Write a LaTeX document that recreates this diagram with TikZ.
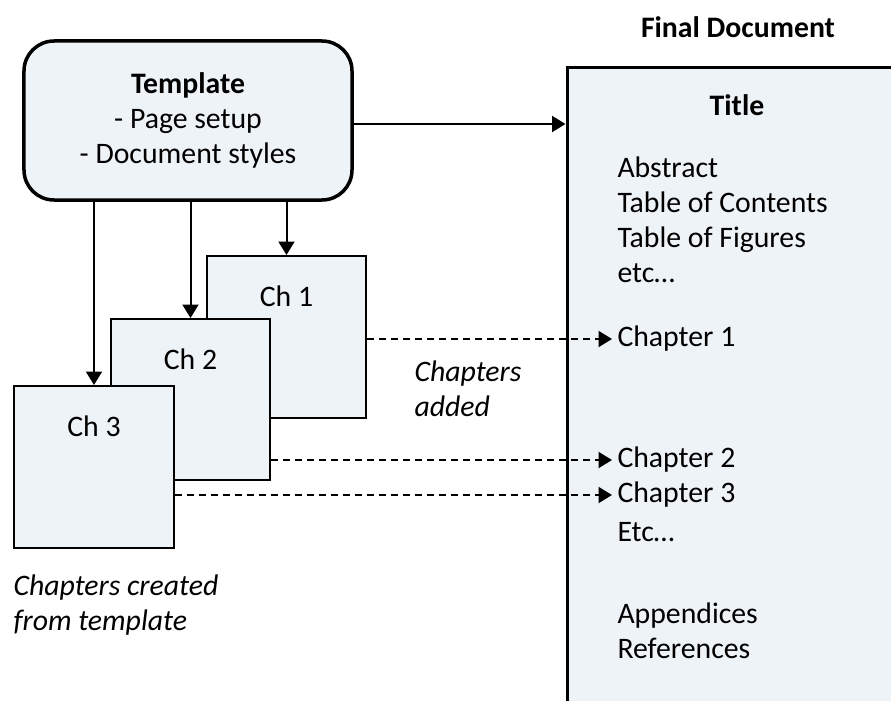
\documentclass[tikz,border=0pt]{standalone}
\usepackage{fontspec}
\setmainfont{Carlito}
\usepackage{tikz}
\usetikzlibrary{calc}
\usetikzlibrary{arrows.meta}
\usetikzlibrary{fit}

\definecolor{pagefill}{RGB}{238,243,248}

\tikzset{
  page/.style={draw=black,fill=pagefill,line width=0.8pt,inner sep=0pt},
  feed/.style={-{Triangle[length=5.4pt,width=6.4pt]},line width=0.8pt},
  added/.style={feed,dash pattern=on 2.6pt off 2.2pt},
  entry/.style={anchor=west,inner sep=2pt,align=left},
}

\begin{document}
\begin{tikzpicture}[x=0.4pt,y=-0.4pt,font=\fontsize{11.9}{14}\selectfont]
  % Constants
  \pgfmathsetmacro\tx{612}   % left of the contents text
  \pgfmathsetmacro\ly{-16.4} % chapter label drop (pt)
  % Boundary
  \path[use as bounding box] (0,0) rectangle (891,700);
  \clip (0,0) rectangle (891,700);
  % Template
  \node[page,line width=1.4pt,rounded corners=12pt,align=center,
        minimum width=131.2pt,minimum height=63.6pt] (tmpl) at (188,120.5)
    {\textbf{Template}\\- Page setup\\- Document styles};
  % Chapter pages
  \node[page,fit={(207,256) (366,418)},label={[anchor=center,yshift=\ly pt]north:Ch 1}] (ch1) {};
  \node[page,fit={(111,319) (270,480)},label={[anchor=center,yshift=\ly pt]north:Ch 2}] (ch2) {};
  \node[page,fit={(14,386) (174,548)},label={[anchor=center,yshift=\ly pt]north:Ch 3}] (ch3) {};
  % Final document
  \node (head) at (738,27) {\textbf{Final Document}};
  \node[page,line width=1.2pt,fit={(567,67) (910,730)}] (final) {};
  \node (title) at (737,105) {\textbf{Title}};
  \node[entry] (front) at (\tx,220) {Abstract\\Table of Contents\\Table of Figures\\etc…};
  \node[entry] (c1) at (\tx,339) {Chapter 1};
  \node[entry] (c2) at (\tx,460) {Chapter 2};
  \node[entry] (c3) at (\tx,495) {Chapter 3};
  \node[entry] (more) at (\tx,532) {Etc…};
  \node[entry] (back) at (\tx,631) {Appendices\\References};
  % Notes
  \node[entry] (addnote) at (409,389) {\textit{Chapters}\\\textit{added}};
  \node[entry] (newnote) at (8,605) {\textit{Chapters created}\\\textit{from template}};
  % Arrows
  \draw[feed] ([yshift=-1.4pt]tmpl.east) -- ([yshift=-1.4pt]tmpl.east -| final.west);
  \foreach \c in {ch1,ch2,ch3}
    \draw[feed] (\c.north |- tmpl.south) -- (\c.north);
  \draw[added] (ch1.east |- c1.west) -- (c1.west);
  \draw[added] (ch2.east |- c2.west) -- (c2.west);
  \draw[added] (ch3.east |- c3.west) -- (c3.west);
\end{tikzpicture}
\end{document}
